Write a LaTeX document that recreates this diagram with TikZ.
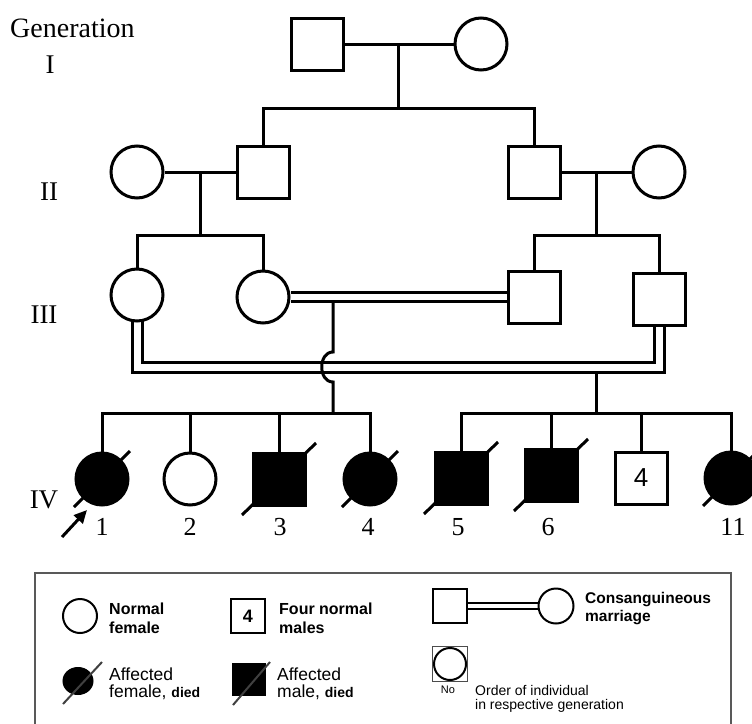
\documentclass[tikz,border=0pt]{standalone}
\usepackage{fontspec}
\setmainfont{Liberation Serif}
\setsansfont{Liberation Sans}
\usetikzlibrary{arrows.meta,backgrounds,shapes.geometric}
\newcommand{\mydiedfont}{\sffamily\bfseries\fontsize{14}{16}\selectfont}
\begin{document}
\begin{tikzpicture}[x=1pt,y=-1pt,
  ln/.style={line width=3pt,line join=miter},
  fem/.style={circle,draw,fill=white,line width=3pt,minimum size=52pt,inner sep=0pt},
  mal/.style={rectangle,draw,fill=white,line width=3pt,minimum size=52pt,inner sep=0pt},
  affem/.style={fem,fill=black},
  afmal/.style={mal,fill=black},
  dbl/.style={line width=3pt,double=white,double distance=#1},
  slash/.style={line width=3pt},
  rom/.style={font=\fontsize{27}{30}\selectfont,inner sep=0pt,anchor=base},
  num/.style={font=\fontsize{26}{30}\selectfont,inner sep=0pt,anchor=base},
  lgb/.style={font=\sffamily\bfseries\fontsize{16}{18}\selectfont,inner sep=0pt,anchor=base west},
  lgr/.style={font=\sffamily\fontsize{17.5}{19}\selectfont,inner sep=0pt,anchor=base west},
  lgs/.style={font=\sffamily\fontsize{14}{16}\selectfont,inner sep=0pt,anchor=base west},
  lgc/.style={circle,draw,fill=white,line width=2pt,minimum size=34pt,inner sep=0pt},
  lgq/.style={rectangle,draw,fill=white,line width=2pt,minimum size=34pt,inner sep=0pt}
]
\useasboundingbox (0,0) rectangle (752,723);

% labels
\node[font=\fontsize{28}{30}\selectfont,inner sep=0pt,anchor=base west] (gen) at (10,37) {Generation};
\node[rom] (gI) at (50,73) {I};
\node[rom] (gII) at (49,200) {II};
\node[rom] (gIII) at (44,323) {III};
\node[rom] (gIV) at (44,508) {IV};

% Generation I
\node[mal] (I1) at (317,44) {};
\node[fem] (I2) at (481,44) {};
% Generation II
\node[fem] (II1) at (137,172) {};
\node[mal] (II2) at (263,172) {};
\node[mal] (II3) at (534,172) {};
\node[fem] (II4) at (659,172) {};
% Generation III
\node[fem] (III1) at (137,295) {};
\node[fem] (III2) at (263,297) {};
\node[mal] (III3) at (534,297) {};
\node[mal] (III4) at (659,299) {};
% Generation IV
\node[affem] (IV1) at (102,479) {};
\node[fem] (IV2) at (190,479) {};
\node[afmal] (IV3) at (279,479) {};
\node[affem] (IV4) at (370,479) {};
\node[afmal] (IV5) at (461,478) {};
\node[afmal] (IV6) at (551,475) {};
\node[mal,font=\sffamily\fontsize{26}{28}\selectfont] (IV7) at (641,478) {4};
\node[affem] (IV11) at (731,478) {};

% slashes
\foreach \n in {IV1,IV4,IV11}
  \draw[slash] (\n.center) ++(-28,28) -- ++(56,-56);
\foreach \n in {IV3,IV5,IV6}
  \draw[slash] (\n.center) ++(-37,36) -- ++(74,-72);

% numbers
\node[num] (n1) at (102,535) {1};
\node[num] (n2) at (190,535) {2};
\node[num] (n3) at (280,535) {3};
\node[num] (n4) at (368,535) {4};
\node[num] (n5) at (458,535) {5};
\node[num] (n6) at (548,535) {6};
\node[num] (n11) at (733,535) {11};

% proband arrow
\coordinate (pa) at (62,537);
\coordinate (pb) at (87,510);
\draw[line width=3pt,-{Triangle[length=13pt,width=12pt]}] (pa) -- (pb);

% junction coordinates
\coordinate (mI) at (398,44);
\coordinate (sI) at (398,108);
\coordinate (mIIa) at (200,172);
\coordinate (sIIa) at (200,235);
\coordinate (mIIb) at (596,172);
\coordinate (sIIb) at (596,235);
\coordinate (cA) at (137,367.5);
\coordinate (cB) at (659,367.5);
\coordinate (dA0) at (333,302);
\coordinate (dA1) at (333,352);
\coordinate (dA2) at (333,382);
\coordinate (sA) at (333,413);
\coordinate (dB0) at (596,372);
\coordinate (sB) at (596,413);

\begin{pgfonlayer}{background}
  % gen I
  \draw[ln] (I1) -- (I2);
  \draw[ln] (mI) -- (sI);
  \draw[ln] (II2.north) |- (sI) -| (II3.north);
  % gen II
  \draw[ln] (II1) -- (II2);
  \draw[ln] (mIIa) -- (sIIa);
  \draw[ln] (III1.north) |- (sIIa) -| (III2.north);
  \draw[ln] (II3) -- (II4);
  \draw[ln] (mIIb) -- (sIIb);
  \draw[ln] (III3.north) |- (sIIb) -| (III4.north);
  % gen III consanguineous marriages
  \draw[dbl=6pt] (III2.east) -- (III3.west);
  \draw[dbl=7pt] (III1.center) -- (cA) -- (cB) -- (III4.center);
  % descent with hop
  \draw[ln] (dA0) -- (dA1) .. controls (318,352) and (318,382) .. (dA2) -- (sA);
  \draw[ln] (dB0) -- (sB);
  % sibships IV
  \draw[ln] (IV1.north) |- (sA) -| (IV4.north);
  \draw[ln] (IV2.north) -- (IV2.north |- sA);
  \draw[ln] (IV3.north) -- (IV3.north |- sA);
  \draw[ln] (IV5.north) |- (sB) -| (IV11.north);
  \draw[ln] (IV6.north) -- (IV6.north |- sB);
  \draw[ln] (IV7.north) -- (IV7.north |- sB);
\end{pgfonlayer}

% legend frame
\draw[line width=1.5pt,draw=black!65] (35,724) -- (35,573) -- (731,573) -- (731,724);

% legend: normal female
\node[lgc] (Lf) at (80,616) {};
\node[lgb] (Lft1) at (109,614) {Normal};
\node[lgb] (Lft2) at (109,633) {female};
% four normal males
\node[lgq,font=\sffamily\bfseries\fontsize{18}{20}\selectfont] (Lm4) at (248,616) {4};
\node[lgb] (Lm4t1) at (279,614) {Four normal};
\node[lgb] (Lm4t2) at (279,633) {males};
% affected female died
\node[ellipse,draw,fill=black,line width=1pt,minimum width=30pt,minimum height=27pt,inner sep=0pt] (Laf) at (78,681) {};
\coordinate (Laf1) at (63,704);
\coordinate (Laf2) at (102,662);
\draw[line width=2pt,draw=black!75] (Laf1) -- (Laf2);
\node[lgr] (Laft1) at (109,680) {Affected};
\node[lgr] (Laft2) at (109,697) {female, {\mydiedfont died}};
% affected male died
\node[rectangle,draw,fill=black,line width=1pt,minimum width=33pt,minimum height=32pt,inner sep=0pt] (Lam) at (248.5,679) {};
\coordinate (Lam1) at (233,705);
\coordinate (Lam2) at (270,662);
\draw[line width=2pt,draw=black!75] (Lam1) -- (Lam2);
\node[lgr] (Lamt1) at (277,680) {Affected};
\node[lgr] (Lamt2) at (277,697) {male, {\mydiedfont died}};
% consanguineous marriage
\node[lgq] (Lcm) at (450,606) {};
\node[lgc,minimum size=35pt] (Lcf) at (556,606) {};
\begin{pgfonlayer}{background}
  \draw[line width=2pt,double=white,double distance=4.5pt] (Lcm) -- (Lcf);
\end{pgfonlayer}
\node[lgb,font=\sffamily\bfseries\fontsize{15.5}{18}\selectfont] (Lct1) at (585,603) {Consanguineous};
\node[lgb,font=\sffamily\bfseries\fontsize{15.5}{18}\selectfont] (Lct2) at (585,621) {marriage};
% order of individual
\node[rectangle,draw=black!70,line width=1.5pt,minimum size=35pt,inner sep=0pt] (Lo) at (450,664) {};
\node[circle,draw,line width=2pt,minimum size=32pt,inner sep=0pt] (Loc) at (Lo.center) {};
\node[font=\sffamily\fontsize{11}{12}\selectfont,inner sep=0pt,anchor=base] (Lno) at (448,693) {No};
\node[lgs] (Lot1) at (475,695) {Order of individual};
\node[lgs] (Lot2) at (475,709) {in respective generation};
\end{tikzpicture}
\end{document}
